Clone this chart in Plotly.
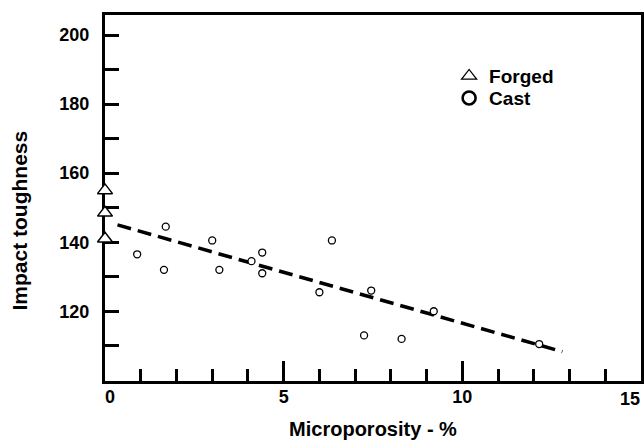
import plotly.graph_objects as go

# ---- data ----
forged_x = [0.0, 0.0, 0.0]
forged_y = [155.0, 148.5, 141.0]

cast_x = [0.9, 1.7, 1.65, 3.0, 3.2, 4.1, 4.4, 4.4, 6.0, 6.35, 7.25, 7.45, 8.3, 9.2, 12.15]
cast_y = [136.5, 144.5, 132.0, 140.5, 132.0, 134.5, 137.0, 131.0, 125.5, 140.5, 113.0, 126.0, 112.0, 120.0, 110.5]

trend_x = [0.35, 12.8]
trend_y = [145.0, 108.3]

x_tick_vals = [0, 5, 10, 15]
x_tick_text = ["\u00a0\u00a00", "5", "10", "15"]
y_tick_vals = [110, 120, 130, 140, 150, 160, 170, 180, 190, 200]
y_tick_text = ["", "120", "", "140", "", "160", "", "180", "", "200"]

legend_names = ["Forged", "Cast"]
x_title = "Microporosity - %"
y_title = "Impact toughness"

FONT = "Liberation Sans, Arial, Helvetica, sans-serif"

fig = go.Figure()

fig.add_trace(go.Scatter(
    x=trend_x, y=trend_y, mode="lines",
    line=dict(color="black", width=3.5, dash="14px,7px"),
    showlegend=False, hoverinfo="skip"))

fig.add_trace(go.Scatter(
    x=cast_x, y=cast_y, mode="markers",
    marker=dict(symbol="circle", size=7, color="white",
                line=dict(color="black", width=1.3)),
    showlegend=False, cliponaxis=False))

fig.add_trace(go.Scatter(
    x=forged_x, y=forged_y, mode="markers",
    marker=dict(symbol="triangle-up", size=13, color="white",
                line=dict(color="black", width=1.5)),
    showlegend=False, cliponaxis=False))

# legend entries
fig.add_trace(go.Scatter(
    x=[None], y=[None], mode="markers", name=legend_names[0], legend="legend",
    marker=dict(symbol="triangle-up-open", size=13, color="black",
                line=dict(color="black", width=1.3))))
fig.add_trace(go.Scatter(
    x=[None], y=[None], mode="markers", name=legend_names[1], legend="legend2",
    marker=dict(symbol="circle-open", size=13, color="black",
                line=dict(color="black", width=2.6))))

leg_common = dict(xanchor="left", yanchor="middle", bgcolor="rgba(0,0,0,0)",
                  font=dict(size=19, family=FONT, weight="bold"), itemwidth=30)

# the last x tick label sits at the right frame edge; draw it right-aligned so it stays inside the page
last_tick_label = dict(
    text=x_tick_text[-1], xref="paper", yref="paper", x=1, y=0,
    xanchor="right", yanchor="top", xshift=1, yshift=-6, showarrow=False,
    font=dict(size=18, family=FONT, weight="bold"))

fig.update_layout(
    width=644, height=440,
    margin=dict(l=105, r=3, t=15, b=59, autoexpand=False),
    paper_bgcolor="white", plot_bgcolor="white",
    font=dict(family=FONT, color="black", size=18, weight="bold"),
    showlegend=True,
    legend=dict(x=0.642, y=0.833, **leg_common),
    legend2=dict(x=0.642, y=0.773, **leg_common),
    annotations=[
        dict(text=y_title, textangle=-90, xref="paper", yref="paper",
             x=-0.1604, y=0.4386, xanchor="center", yanchor="middle",
             showarrow=False, font=dict(size=21, family=FONT, weight="bold")),
        last_tick_label,
    ],
)

fig.update_xaxes(
    range=[0, 15], showgrid=False, zeroline=False, automargin=False,
    showline=True, linecolor="black", linewidth=3, mirror=True,
    tickmode="array", tickvals=x_tick_vals[:-1], ticktext=x_tick_text[:-1],
    ticks="inside", ticklen=20, tickwidth=3, tickcolor="black",
    ticklabelstandoff=-3,
    tickfont=dict(size=18, family=FONT, weight="bold"),
    minor=dict(tickmode="linear", tick0=0, dtick=1, ticks="inside",
               ticklen=12, tickwidth=2.5, tickcolor="black"),
    title=dict(text=x_title, standoff=24,
               font=dict(size=20, family=FONT, weight="bold")),
    layer="below traces",
)

fig.update_yaxes(
    range=[99.8, 205.8], showgrid=False, zeroline=False, automargin=False,
    showline=True, linecolor="black", linewidth=3, mirror=True,
    tickmode="array", tickvals=y_tick_vals, ticktext=y_tick_text,
    ticks="inside", ticklen=14, tickwidth=3, tickcolor="black",
    ticklabelstandoff=9,
    tickfont=dict(size=18, family=FONT, weight="bold"),
    layer="below traces",
)

fig.write_html("out.html")
